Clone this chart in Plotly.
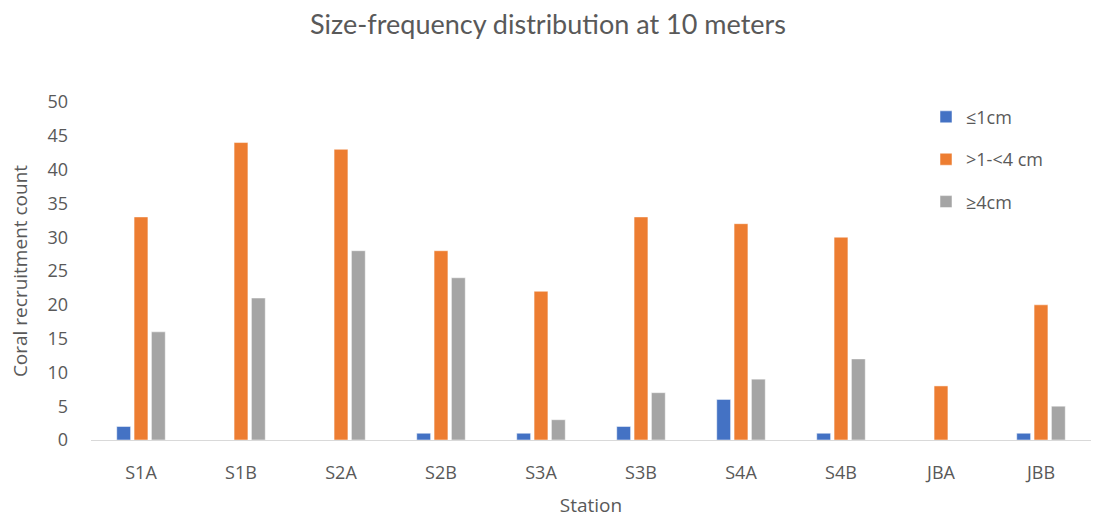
import plotly.graph_objects as go

# Coral recruit counts by station and size class (10 m depth)
stations = ["S1A", "S1B", "S2A", "S2B", "S3A", "S3B", "S4A", "S4B", "JBA", "JBB"]
size_le1 = [2, 0, 0, 1, 1, 2, 6, 1, 0, 1]
size_1to4 = [33, 44, 43, 28, 22, 33, 32, 30, 8, 20]
size_ge4 = [16, 21, 28, 24, 3, 7, 9, 12, 0, 5]

series = [
    ("≤1cm", size_le1, "#4472C4"),
    (">1-<4 cm", size_1to4, "#ED7D31"),
    ("≥4cm", size_ge4, "#A5A5A5"),
]

font_family = "Open Sans, Lato, sans-serif"
text_color = "#595959"

fig = go.Figure()
for i, (name, vals, color) in enumerate(series):
    fig.add_trace(go.Bar(
        x=stations, y=vals, name=name, legendgroup=f"g{i}",
        marker=dict(color=color, line=dict(color="white", width=0.5)),
    ))

fig.update_layout(
    width=1096, height=518,
    margin=dict(l=91, r=5, t=102, b=78, autoexpand=False),
    paper_bgcolor="white", plot_bgcolor="white",
    barmode="group", bargap=0.48, bargroupgap=0.2,
    font=dict(family=font_family, size=18, color=text_color),
    title=dict(text="Size-frequency distribution at 10 meters",
               x=0.5, xanchor="center", y=0.952, yanchor="middle",
               font=dict(family="Lato, sans-serif", size=27, color=text_color)),
    legend=dict(x=0.835, y=1.01, xanchor="left", yanchor="top",
                tracegroupgap=16, bgcolor="rgba(0,0,0,0)",
                font=dict(size=18, color=text_color)),
    showlegend=True,
)
fig.update_xaxes(
    showline=True, linecolor="#D9D9D9", linewidth=1,
    showgrid=False, ticks="", ticklabelstandoff=16, automargin=False,
    title=dict(text="Station", standoff=18, font=dict(size=19)),
)
fig.update_yaxes(
    range=[0, 50], dtick=5, showgrid=False, zeroline=False,
    showline=False, ticks="", ticklabelstandoff=22, automargin=False,
    title=dict(text="Coral recruitment count", standoff=14, font=dict(size=19)),
)

fig.write_html("out.html")
